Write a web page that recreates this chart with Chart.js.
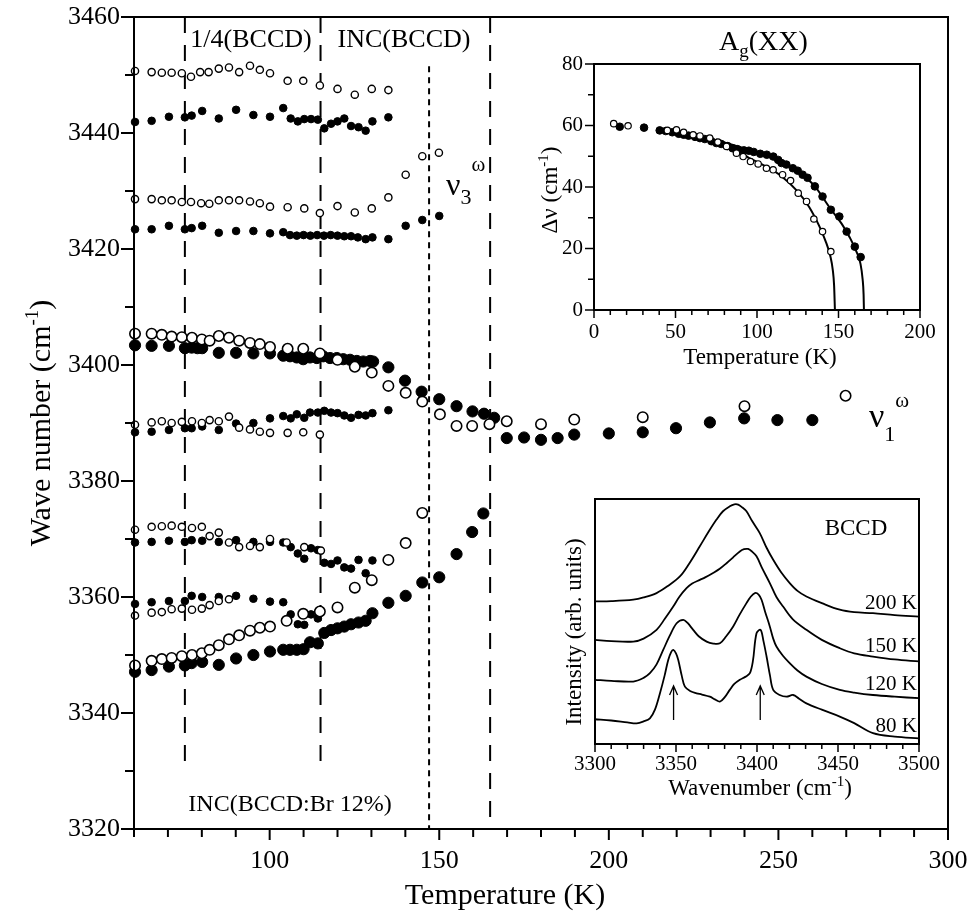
<!DOCTYPE html>
<html><head><meta charset="utf-8">
<script src="https://cdn.jsdelivr.net/npm/chart.js@4/dist/chart.umd.min.js"></script>
<style>html,body{margin:0;padding:0;background:#fff}#wrap{position:relative;width:969px;height:914px;overflow:hidden}canvas{position:absolute}</style>
</head><body><div id="wrap">
<canvas id="main" width="969" height="914" style="left:0;top:0"></canvas>
<canvas id="ins1" width="425" height="355" style="left:530px;top:20px"></canvas>
<canvas id="ins2" width="425" height="330" style="left:530px;top:480px"></canvas>
</div>
<script>
// ---------------- DATA (main panel) ----------------
const mainXTicks = [100,150,200,250,300];
const mainYTicks = [3320,3340,3360,3380,3400,3420,3440,3460];
// small open circles
const smallOpenA = [[60.3,3450.7],[65.2,3450.5],[68.2,3450.4],[71.1,3450.4],[74.1,3450.3],[76.8,3449.7],[79.5,3450.5],[82,3450.5],[85,3451.1],[88,3451.3],[91,3450.5],[94.2,3451.6],[97.1,3450.9],[100.1,3450.3],[105.3,3449.0],[109.9,3449.0],[114.8,3448.2],[120,3447.6],[125.1,3446.6],[130.1,3447.6],[135,3447.4]];
const smallOpenB = [[60.3,3428.6],[65.2,3428.6],[68.2,3428.4],[71.1,3428.4],[74.1,3428.1],[76.8,3428.1],[79.8,3427.9],[82.2,3427.8],[85,3428.4],[88,3428.4],[91,3428.4],[94.2,3428.2],[97.1,3427.9],[100.1,3427.3],[105.3,3427.2],[110.2,3427],[114.8,3426.2],[120,3427.4],[125.1,3426.3],[130.1,3427],[135,3428.9],[140.1,3432.8],[145,3436],[149.9,3436.6]];
const smallOpenC = [[60.3,3389.7],[65.2,3390.1],[68.2,3390.3],[71.1,3390],[74.1,3390.2],[77.1,3390.3],[80,3390],[82.3,3390.5],[85,3390.3],[88,3391.1],[91,3389.2],[94.2,3388.9],[97.1,3388.5],[100.1,3388.3],[105.3,3388.3],[109.9,3388.4],[114.8,3388]];
const smallOpenD = [[60.3,3371.6],[65.2,3372.1],[68.2,3372.2],[71.1,3372.3],[74.1,3372.1],[77.1,3371.9],[80,3372.1],[82.3,3370.5],[85,3371.1],[88,3369.4],[91,3368.6],[94.2,3368.8],[97.1,3368.6],[100.1,3370],[105,3369.4],[110.2,3368.6],[115.1,3368]];
const smallOpenE = [[60.3,3356.8],[65.2,3357.3],[68.2,3357.4],[71.1,3357.9],[74.1,3358],[77.1,3357.8],[80,3358],[82.3,3358.6],[85,3359.3],[88,3359.6]];
// small filled circles
const smallFilledA = [[60.3,3441.9],[65.2,3442.1],[70.3,3442.8],[75,3442.7],[77,3443],[80.1,3443.8],[85,3442.5],[90.1,3444],[95.2,3443.1],[100.1,3442.8],[104,3444.3],[106.2,3442.5],[108.3,3442],[110.2,3442.4],[112.2,3442.4],[114.2,3442.3],[116.1,3440.8],[118.1,3441.6],[120,3442],[122,3442.5],[124,3441.2],[126.2,3441],[128.3,3440.4],[130.3,3442],[135,3442.7]];
const smallFilledB = [[60.3,3423.4],[65.2,3423.4],[70.3,3424],[75,3423.4],[77,3423.6],[80.1,3424],[85,3422.8],[90.1,3423.1],[95.2,3423.1],[100.1,3422.7],[104,3422.9],[106,3422.4],[108,3422.3],[110,3422.4],[112,3422.3],[114,3422.4],[116,3422.3],[118,3422.4],[120,3422.3],[122,3422.2],[124,3422.2],[126,3422],[128.3,3421.7],[130.3,3422],[135,3421.7],[140.1,3424],[145,3425],[150,3425.7]];
const smallFilledC = [[60.3,3388.4],[65.2,3388.5],[70.3,3388.8],[75,3389.1],[77,3389.1],[80.1,3389.4],[85,3388.8],[90.1,3389.9],[95.2,3390],[100.1,3390.8],[104,3391.2],[106.2,3390.8],[108,3391.5],[110.2,3390.9],[111.9,3391.8],[114.2,3391.8],[116.1,3392.1],[118.1,3391.8],[120,3391.7],[122,3391.3],[124,3390.9],[126.2,3391.4],[128.3,3391.3],[130.3,3391.7],[135,3392.2]];
const smallFilledD = [[60.3,3369.4],[65.2,3369.5],[70.3,3369.7],[75,3369.5],[77,3369.8],[80.1,3369.7],[85,3369.5],[90.1,3369.8],[95.2,3369.5],[100.1,3369.5],[104,3369.4],[106.2,3368.6],[108.3,3367.5],[110.2,3366.6],[112.2,3368.4],[114.2,3368.1],[116.1,3365.9],[118.1,3365.7],[120,3366.3],[122,3365.1],[124,3364.9],[126.2,3366.4],[128.3,3364.1],[130.3,3366.3]];
const smallFilledE = [[60.3,3358.8],[65.2,3359.1],[70.3,3359.3],[75,3359.3],[77,3360.2],[80.1,3360],[85,3360],[90.1,3360.2],[95.2,3359.7],[100.1,3359.2],[104,3359.1],[106.2,3357],[108.3,3355.3],[110.2,3355.2],[112.2,3357],[114.2,3356.3]];
// large open circles (nu1 branch and nu3 branch)
const largeOpenUpper = [[60.3,3405.4],[65.2,3405.4],[68.2,3405.2],[71.1,3404.9],[74.1,3404.8],[77.1,3404.7],[80,3404.4],[82.3,3404.2],[85,3405],[88,3404.7],[91,3404.2],[94.2,3403.8],[97.1,3403.6],[100.1,3403.1],[105.3,3402.8],[109.9,3402.8],[114.8,3402],[120,3400.9],[125.1,3399.7],[130.1,3398.7],[135,3396.4],[140.1,3395.2],[145,3393.7],[150.2,3391.5],[155.1,3389.5],[159.7,3389.5],[164.8,3389.8],[169.9,3390.3],[180,3389.8],[189.8,3390.6],[210,3391],[240,3392.9],[269.8,3394.7]];
const largeOpenLower = [[60.3,3348.2],[65.2,3349],[68.2,3349.3],[71.1,3349.5],[74.1,3349.8],[77.1,3350],[80,3350.3],[82.3,3350.9],[85,3351.7],[88,3352.7],[91,3353.4],[94.2,3354.2],[97.1,3354.7],[100.1,3354.9],[105,3355.9],[109.9,3357.1],[114.8,3357.5],[120,3358.2],[125.1,3361.6],[130.1,3362.9],[135,3366.4],[140.1,3369.3],[145,3374.5]];
// large filled circles
const largeFilledUpper = [[60.3,3403.4],[65.2,3403.3],[70.3,3403.3],[75,3402.9],[77,3403],[78.7,3402.9],[80.1,3402.9],[85,3402.1],[90.1,3402.1],[95.2,3402],[100.1,3402],[104,3401.6],[106,3401.5],[108,3401.3],[109.9,3401],[111.9,3401.3],[113.9,3401.2],[115.8,3401.5],[117.8,3401.2],[119.8,3401.2],[121.7,3401],[123.7,3400.9],[125.7,3400.7],[127.6,3400.6],[129.6,3400.7],[130.5,3400.6],[135,3399.6],[139.9,3397.3],[144.8,3395.4],[150,3394.1],[155.1,3392.9],[159.8,3392],[163.2,3391.6],[166.2,3390.9],[169.9,3387.4],[175,3387.5],[180,3387.1],[184.9,3387.4],[189.8,3388],[200,3388.2],[210,3388.4],[219.8,3389.1],[229.8,3390.1],[239.9,3390.8],[249.7,3390.5],[260,3390.5]];
const largeFilledLower = [[60.3,3347.1],[65.2,3347.4],[70.3,3348],[75,3348.2],[77,3348.6],[80.1,3348.8],[85,3348.3],[90.1,3349.4],[95.2,3350],[100.1,3350.6],[104,3350.9],[106,3350.9],[108,3350.9],[110,3351],[111.9,3352.2],[114.2,3352],[116.1,3353.8],[118.1,3354.3],[120,3354.6],[122,3354.9],[124,3355.3],[126.2,3355.6],[128.3,3355.9],[130.3,3357.2],[135,3359],[140.1,3360.2],[145,3362.5],[150,3363.4],[155.1,3367.4],[159.7,3371.2],[163,3374.4]];
// phase boundaries
const dashT = [75,115,165];
const dashBottom = [3331,3331,3320];
const dotT = [147];
const dotTop = [3451.5];

// ---------------- DATA (inset 1: soft-mode frequency) ----------------
const ins1XTicks = [0,50,100,150,200];
const ins1YTicks = [0,20,40,60,80];
const ins1Open = [[12.1,60.6],[20.9,59.9],[45,58.4],[50.6,58.6],[55,57.8],[60.8,57],[65,56.6],[71,55.9],[76,54.6],[81.3,53.2],[87.4,51],[91.5,49.9],[96,48.3],[100.7,47.5],[105.8,46.1],[109.9,45.6],[115.7,44],[120.6,42.1],[125.3,38],[130.4,35.3],[134.9,29.6],[140.2,25.5],[145.3,19]];
const ins1Filled = [[15.8,59.6],[30.7,59.3],[40.3,58.4],[44,58.2],[48,57.8],[52,57.3],[55,57],[58,56.7],[62,56.3],[65,55.9],[68,55.6],[72,54.9],[75,54.3],[78,54],[82,53.3],[85,52.6],[88,52.3],[92,51.9],[95,51.8],[98,51.4],[102,50.8],[106,50.5],[110,49.9],[113,48.8],[115,47.8],[118,47.3],[122,46.1],[125,45.3],[128,44],[131,43],[135.5,40.2],[140.2,36.9],[145.3,32.6],[150.5,30.4],[155,25.5],[160,20.6],[163.6,17.2]];
const ins1FitOpen = [[40,58.8],[60,57.2],[80,54],[95,49.5],[105,46.8],[115,43.5],[125,38.5],[132,33.5],[138,27.5],[142,22.5],[145,17.5],[146.5,13],[147.3,8],[147.8,0]];
const ins1FitFilled = [[40,58.8],[60,57],[80,54.5],[100,51.2],[115,48],[125,45],[135,40.5],[145,33],[152,28],[157,23.5],[161,19],[163.5,15],[164.8,10],[165.4,5],[165.6,0]];

// ---------------- DATA (inset 2: spectra) ----------------
const ins2XTicks = [3300,3350,3400,3450,3500];
const spec80 = [[3300,10.1],[3310,9.6],[3320,8.8],[3325.7,8.4],[3330,9.2],[3333.9,10.5],[3337,14],[3340.1,20.7],[3343,28],[3345.2,34.3],[3347,37.5],[3348.3,38.4],[3350,37],[3351.4,34.3],[3353.5,28],[3355.5,23.4],[3359,21.5],[3362.7,20.7],[3366,20.2],[3370.9,19.3],[3374,18.2],[3377.1,17.3],[3380,19],[3383.2,22.1],[3386,24.5],[3389.4,26.2],[3393,27.5],[3395.6,28.9],[3397.5,34],[3399.7,45.2],[3402.2,46.6],[3404,42],[3405.9,35.7],[3408,28],[3410,22.1],[3414,20],[3418.2,19.3],[3422.3,20],[3426,18.5],[3430.5,16.6],[3440,14],[3451.1,11.2],[3460,8.5],[3471.6,4.4],[3485,3],[3500,2.3]];
const spec120 = [[3300,26.2],[3310,25.8],[3323.6,25.5],[3330,27],[3333.9,28.9],[3338,32.5],[3342.1,38.4],[3346,44],[3350.4,49.3],[3354.5,50.7],[3357,49.5],[3360.6,46.6],[3364,44],[3368.9,41.8],[3373,41],[3377.1,41.1],[3381,44],[3385.3,48],[3389,52.5],[3393.5,57.5],[3396,60],[3398.7,61.6],[3401,61],[3402.8,58.9],[3405,54],[3407.9,48],[3410,43],[3412,39.8],[3416,36],[3420.2,33],[3425,30],[3430.5,27.5],[3440,24.5],[3451.1,22.1],[3460,21],[3471.6,20],[3485,19.3],[3500,18.7]];
const spec150 = [[3300,42.5],[3310,42],[3323.6,41.8],[3330,43],[3338,46.6],[3343,51],[3348.3,56.1],[3352,60],[3356.5,63.6],[3360,65.5],[3364.7,67],[3368,68],[3372.9,69.8],[3377,71.5],[3381.2,73.8],[3385,76],[3389.4,78.6],[3392,79.5],[3394.5,79.6],[3397,78.5],[3399.7,76.6],[3403,72],[3407.9,65.7],[3412,60],[3416.1,56.1],[3422,51],[3430.5,46.6],[3440,42.5],[3451.1,39.1],[3460,37],[3471.6,35.7],[3485,34.5],[3500,33.7]];
const spec200 = [[3300,58.2],[3310,58.3],[3323.6,58.9],[3330,59.8],[3338,61.6],[3345,64.5],[3352.4,68.4],[3358,73.5],[3364.7,80.7],[3370,86.5],[3375,91.6],[3379,95],[3383.2,97],[3386,97.8],[3388.4,97.7],[3391,96.5],[3393.5,95],[3397,91],[3401.7,86.1],[3406,80],[3410,75.2],[3415,70],[3420.2,65.7],[3425,62.5],[3430.5,60.2],[3440,57.5],[3451.1,54.8],[3460,53.8],[3471.6,53.4],[3485,52.6],[3500,52]];
const arrowX = [3348.5, 3402];
const arrowFrom = 9.8, arrowTo = 23.7;

// ---------------- helpers ----------------
const SERIF = "'Liberation Serif','Times New Roman','DejaVu Serif',serif";
const pts = a => a.map(p => ({x:p[0], y:p[1]}));
function rich(ctx, parts, x, y, align, rot) {
  ctx.save(); ctx.translate(x, y); if (rot) ctx.rotate(rot);
  ctx.fillStyle = '#000'; ctx.textBaseline = 'alphabetic'; ctx.textAlign = 'left';
  let w = 0;
  parts.forEach(p => { ctx.font = p.s + 'px ' + SERIF; p.w = ctx.measureText(p.t).width; w += p.w; });
  let cx = align === 'center' ? -w/2 : (align === 'right' ? -w : 0);
  parts.forEach(p => { ctx.font = p.s + 'px ' + SERIF; ctx.fillText(p.t, cx, p.dy || 0); cx += p.w; });
  ctx.restore();
}
const framePlugin = {
  id: 'frame',
  afterDatasetsDraw(chart, args, o) {
    const {ctx, chartArea: a, scales} = chart;
    ctx.save(); ctx.strokeStyle = '#000'; ctx.lineCap = 'butt';
    ctx.lineWidth = o.lw;
    ctx.strokeRect(a.left, a.top, a.right - a.left, a.bottom - a.top);
    ctx.lineWidth = o.tw;
    const sx = scales.x, sy = scales.y;
    const line = (x1,y1,x2,y2) => { ctx.beginPath(); ctx.moveTo(x1,y1); ctx.lineTo(x2,y2); ctx.stroke(); };
    for (let v = sx.min; v <= sx.max + 1e-6; v += o.xStep) {
      const px = sx.getPixelForValue(v);
      const major = o.xMajor.some(m => Math.abs(m - v) < 1e-6);
      line(px, a.bottom, px, a.bottom + (major ? o.xMajLen : o.xMinLen));
    }
    if (o.yStep) for (let v = sy.min; v <= sy.max + 1e-6; v += o.yStep) {
      const py = sy.getPixelForValue(v);
      const major = o.yMajor.some(m => Math.abs(m - v) < 1e-6);
      line(a.left - (major ? o.yMajLen : o.yMinLen), py, a.left, py);
    }
    ctx.restore();
  }
};
const textPlugin = {
  id: 'texts',
  afterDraw(chart, args, o) {
    (o.items || []).forEach(it => rich(chart.ctx, it.parts, it.x - o.ox, it.y - o.oy, it.align || 'left', it.rot || 0));
  }
};
const arrowPlugin = {
  id: 'arrows',
  afterDatasetsDraw(chart, args, o) {
    if (!o.xs) return;
    const {ctx, scales} = chart;
    ctx.save(); ctx.strokeStyle = '#000'; ctx.lineWidth = 1.3;
    o.xs.forEach(v => {
      const px = scales.x.getPixelForValue(v);
      const y1 = scales.y.getPixelForValue(o.from), y2 = scales.y.getPixelForValue(o.to);
      ctx.beginPath(); ctx.moveTo(px, y1); ctx.lineTo(px, y2);
      ctx.moveTo(px - 4, y2 + 9); ctx.lineTo(px, y2); ctx.lineTo(px + 4, y2 + 9); ctx.stroke();
    });
    ctx.restore();
  }
};
// nudge layout padding so the plot box lands where the reference has it
function fitArea(chart, opts, t) {
  for (let i = 0; i < 5; i++) {
    const a = chart.chartArea, p = opts.layout.padding;
    const dt = t.top - a.top, dr = a.right - t.right, db = a.bottom - t.bottom, dl = t.left - a.left;
    if (Math.abs(dt) < 0.5 && Math.abs(dr) < 0.5 && Math.abs(db) < 0.5 && Math.abs(dl) < 0.5) break;
    p.top = Math.max(0, p.top + dt); p.right = Math.max(0, p.right + dr);
    p.bottom = Math.max(0, p.bottom + db); p.left = Math.max(0, p.left + dl);
    chart.update();
  }
}
const tickFont = s => ({family: SERIF, size: s});
// invisible grid ticks only serve to offset the labels (keeps the layout overflow small)
const ghostGrid = len => ({display:true, drawOnChartArea:false, drawTicks:true, tickLength:len, color:'rgba(0,0,0,0)', tickColor:'rgba(0,0,0,0)'});
const baseOpts = {responsive:false, animation:false, devicePixelRatio:1, events:[]};
const scatterSet = (data, r, fill, bw) => ({data: pts(data), showLine:false, pointRadius:r, pointHoverRadius:r, pointStyle:'circle',
  backgroundColor: fill, borderColor:'#000', pointBorderWidth: bw, borderWidth: bw, clip:false});
const lineSet = (data, dash, lw) => ({data: pts(data), showLine:true, pointRadius:0, borderColor:'#000', borderWidth:lw, borderDash:dash, fill:false, clip:false});

// ---------------- MAIN CHART ----------------
const dashLines = dashT.map((t,i) => lineSet([[t,3460],[t,dashBottom[i]]], [16,12], 2));
const dotLines = dotT.map((t,i) => lineSet([[t,dotTop[i]],[t,3320]], [6,5], 2));
const mainOpts = Object.assign({}, baseOpts, {
    layout: {padding: {left:0, top:17, right:21, bottom:0}},
    plugins: {
      legend:{display:false}, tooltip:{enabled:false},
      frame: {lw:2, tw:2, xStep:10, xMajor:mainXTicks, xMajLen:11, xMinLen:8, yStep:10, yMajor:mainYTicks, yMajLen:13, yMinLen:9},
      texts: {ox:0, oy:0, items:[
        {parts:[{t:'1/4(BCCD)', s:26}], x:251, y:47, align:'center'},
        {parts:[{t:'INC(BCCD)', s:26}], x:404, y:47, align:'center'},
        {parts:[{t:'INC(BCCD:Br 12%)', s:24}], x:290, y:811, align:'center'},
        {parts:[{t:'ν', s:32},{t:'3', s:22, dy:9},{t:'ω', s:21, dy:-24}], x:446, y:195},
        {parts:[{t:'ν', s:34},{t:'1', s:22, dy:14},{t:'ω', s:21, dy:-20}], x:869, y:427},
        {parts:[{t:'Temperature (K)', s:30}], x:505, y:904, align:'center'},
        {parts:[{t:'Wave number (cm', s:30},{t:'-1', s:19, dy:-12},{t:')', s:30}], x:50, y:423, align:'center', rot:-Math.PI/2}
      ]}
    },
    scales: {
      x: {type:'linear', min:60, max:300, grid:ghostGrid(17), border:{display:false},
          ticks:{font:tickFont(26), color:'#000', padding:0, maxRotation:0, autoSkip:false, callback: v => String(v)},
          afterBuildTicks: s => { s.ticks = mainXTicks.map(v => ({value:v})); },
          afterFit: s => { s.height = 85; }},
      y: {type:'linear', min:3320, max:3460, grid:ghostGrid(14), border:{display:false},
          ticks:{font:tickFont(26), color:'#000', padding:0, autoSkip:false, callback: v => String(v)},
          afterBuildTicks: s => { s.ticks = mainYTicks.map(v => ({value:v})); },
          afterFit: s => { s.width = 134; }}
    }
});
const mainChart = new Chart(document.getElementById('main'), {
  type: 'scatter',
  data: { datasets: [
    ...[smallOpenA,smallOpenB,smallOpenC,smallOpenD,smallOpenE].map(d => scatterSet(d, 3.6, '#fff', 1.4)),
    ...[largeOpenUpper,largeOpenLower].map(d => scatterSet(d, 5.2, '#fff', 1.6)),
    ...[smallFilledA,smallFilledB,smallFilledC,smallFilledD,smallFilledE].map(d => scatterSet(d, 3.8, '#000', 1)),
    ...[largeFilledUpper,largeFilledLower].map(d => scatterSet(d, 5.6, '#000', 1)),
    ...dashLines, ...dotLines
  ]},
  options: mainOpts,
  plugins: [framePlugin, textPlugin]
});
fitArea(mainChart, mainOpts, {left:134, top:17, right:948, bottom:829});

// ---------------- INSET 1 ----------------
const ins1Opts = Object.assign({}, baseOpts, {
    layout: {padding: {left:0, top:44, right:35, bottom:0}},
    plugins: {
      legend:{display:false}, tooltip:{enabled:false},
      frame: {lw:2, tw:1.5, xStep:10, xMajor:ins1XTicks, xMajLen:8, xMinLen:5, yStep:10, yMajor:ins1YTicks, yMajLen:9, yMinLen:6},
      texts: {ox:530, oy:20, items:[
        {parts:[{t:'A', s:28},{t:'g', s:19, dy:7},{t:'(XX)', s:28}], x:719, y:50},
        {parts:[{t:'Temperature (K)', s:23}], x:760, y:364, align:'center'},
        {parts:[{t:'Δν (cm', s:23},{t:'-1', s:15, dy:-9},{t:')', s:23}], x:557, y:190, align:'center', rot:-Math.PI/2}
      ]}
    },
    scales: {
      x: {type:'linear', min:0, max:200, grid:ghostGrid(10), border:{display:false},
          ticks:{font:tickFont(21), color:'#000', padding:0, maxRotation:0, autoSkip:false, callback: v => String(v)},
          afterBuildTicks: s => { s.ticks = ins1XTicks.map(v => ({value:v})); },
          afterFit: s => { s.height = 65; }},
      y: {type:'linear', min:0, max:80, grid:ghostGrid(11), border:{display:false},
          ticks:{font:tickFont(21), color:'#000', padding:0, autoSkip:false, callback: v => String(v)},
          afterBuildTicks: s => { s.ticks = ins1YTicks.map(v => ({value:v})); },
          afterFit: s => { s.width = 64; }}
    }
});
const ins1Chart = new Chart(document.getElementById('ins1'), {
  type: 'scatter',
  data: { datasets: [
    scatterSet(ins1Open, 3.2, '#fff', 1.2),
    scatterSet(ins1Filled, 3.8, '#000', 1),
    Object.assign(lineSet(ins1FitOpen, [], 2), {cubicInterpolationMode:'monotone'}),
    Object.assign(lineSet(ins1FitFilled, [], 2), {cubicInterpolationMode:'monotone'})
  ]},
  options: ins1Opts,
  plugins: [framePlugin, textPlugin]
});
fitArea(ins1Chart, ins1Opts, {left:64, top:44, right:390, bottom:290});

// ---------------- INSET 2 ----------------
const ins2Opts = Object.assign({}, baseOpts, {
    layout: {padding: {left:0, top:19, right:36, bottom:0}},
    plugins: {
      legend:{display:false}, tooltip:{enabled:false},
      frame: {lw:2, tw:1.5, xStep:10, xMajor:ins2XTicks, xMajLen:8, xMinLen:5, yStep:0},
      arrows: {xs: arrowX, from: arrowFrom, to: arrowTo},
      texts: {ox:530, oy:480, items:[
        {parts:[{t:'BCCD', s:23}], x:856, y:535, align:'center'},
        {parts:[{t:'200 K', s:21}], x:917, y:609, align:'right'},
        {parts:[{t:'150 K', s:21}], x:917, y:652, align:'right'},
        {parts:[{t:'120 K', s:21}], x:917, y:690, align:'right'},
        {parts:[{t:'80 K', s:21}], x:917, y:732, align:'right'},
        {parts:[{t:'Wavenumber (cm', s:23},{t:'-1', s:15, dy:-9},{t:')', s:23}], x:760, y:795, align:'center'},
        {parts:[{t:'Intensity (arb. units)', s:23}], x:581, y:632, align:'center', rot:-Math.PI/2}
      ]}
    },
    scales: {
      x: {type:'linear', min:3300, max:3500, grid:ghostGrid(8), border:{display:false},
          ticks:{font:tickFont(21), color:'#000', padding:0, maxRotation:0, autoSkip:false, callback: v => String(v)},
          afterBuildTicks: s => { s.ticks = ins2XTicks.map(v => ({value:v})); },
          afterFit: s => { s.height = 66; }},
      y: {type:'linear', min:0, max:100, grid:{display:false, drawTicks:false}, border:{display:false},
          ticks:{display:false},
          afterFit: s => { s.width = 65; }}
    }
});
const ins2Chart = new Chart(document.getElementById('ins2'), {
  type: 'scatter',
  data: { datasets: [spec80, spec120, spec150, spec200].map(d => Object.assign(lineSet(d, [], 1.8), {tension:0.35, clip:true})) },
  options: ins2Opts,
  plugins: [framePlugin, arrowPlugin, textPlugin]
});
fitArea(ins2Chart, ins2Opts, {left:65, top:19, right:389, bottom:264});
</script>
</body></html>
